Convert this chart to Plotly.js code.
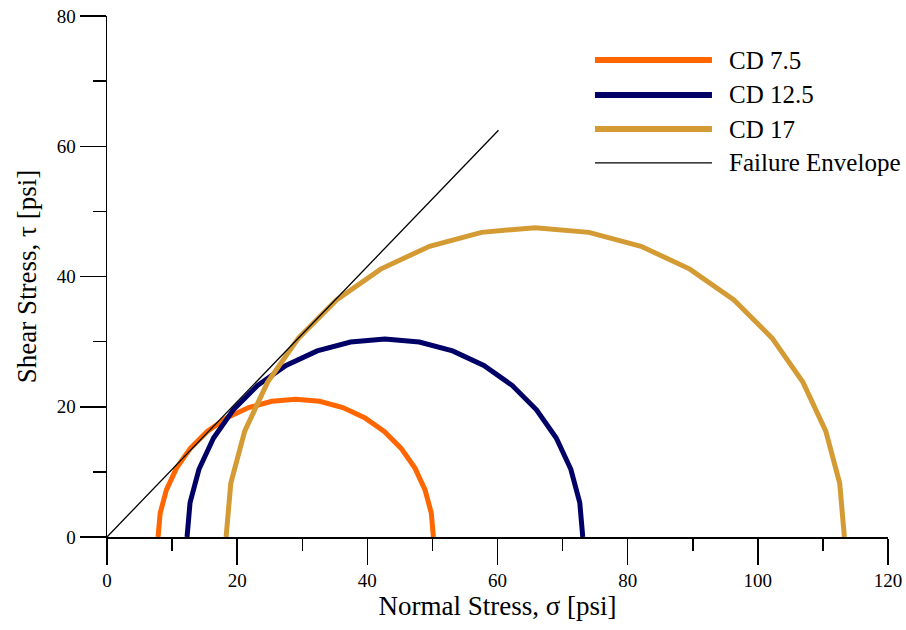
<!DOCTYPE html>
<html>
<head>
<meta charset="utf-8">
<script src="https://cdn.plot.ly/plotly-3.0.1.min.js"></script>
<style>
html,body{margin:0;padding:0;background:#fff;}
#chart{width:906px;height:630px;}
#chart .xtick text, #chart .ytick text { font-family: "Liberation Serif", "Times New Roman", serif !important; }
</style>
</head>
<body>
<div id="chart"></div>
<script>
// Mohr circle CD 7.5
const cd75_sigma = [7.85, 8.17, 9.13, 10.68, 12.80, 15.40, 18.43, 21.77, 25.33, 29.00, 32.67, 36.23, 39.58, 42.60, 45.20, 47.32, 48.87, 49.83, 50.15];
const cd75_tau   = [0, 3.67, 7.23, 10.58, 13.60, 16.20, 18.32, 19.87, 20.83, 21.15, 20.83, 19.87, 18.32, 16.20, 13.60, 10.58, 7.23, 3.67, 0];
// Mohr circle CD 12.5
const cd125_sigma = [12.3, 12.76, 14.13, 16.37, 19.41, 23.16, 27.5, 32.30, 37.42, 42.7, 47.98, 53.10, 57.9, 62.24, 65.99, 69.03, 71.27, 72.64, 73.1];
const cd125_tau   = [0, 5.28, 10.40, 15.2, 19.54, 23.29, 26.33, 28.57, 29.94, 30.4, 29.94, 28.57, 26.33, 23.29, 19.54, 15.2, 10.40, 5.28, 0];
// Mohr circle CD 17
const cd17_sigma = [18.3, 19.02, 21.16, 24.66, 29.41, 35.27, 42.05, 49.55, 57.55, 65.8, 74.05, 82.05, 89.55, 96.33, 102.19, 106.94, 110.44, 112.58, 113.3];
const cd17_tau   = [0, 8.25, 16.25, 23.75, 30.53, 36.39, 41.14, 44.64, 46.78, 47.5, 46.78, 44.64, 41.14, 36.39, 30.53, 23.75, 16.25, 8.25, 0];
// Failure envelope
const env_sigma = [0, 60.15];
const env_tau   = [0, 62.46];

const seriesNames = ["CD 7.5", "CD 12.5", "CD 17", "Failure Envelope"];
const seriesColors = ["#FF6600", "#000066", "#D49B35", "#000000"];
const seriesWidths = [5, 5, 5, 1.3];
const xTicks = [0, 20, 40, 60, 80, 100, 120];
const yTicks = [0, 20, 40, 60, 80];
const xMinorTicks = [10, 30, 50, 70, 90, 110];
const yMinorTicks = [10, 30, 50, 70];

const FONT = 'Liberation Serif';

const data = [
  {x: cd75_sigma, y: cd75_tau},
  {x: cd125_sigma, y: cd125_tau},
  {x: cd17_sigma, y: cd17_tau},
  {x: env_sigma, y: env_tau}
].map((d, i) => ({
  x: d.x, y: d.y, type: 'scatter', mode: 'lines', name: seriesNames[i],
  line: {color: seriesColors[i], width: seriesWidths[i]}, showlegend: false, hoverinfo: 'skip'
}));

// manual legend (paper coords)
const legRowsY = [0.9155, 0.8484, 0.7831, 0.7179];
const shapes = [];
const annotations = [];
seriesNames.forEach((n, i) => {
  shapes.push({type: 'line', xref: 'paper', yref: 'paper', x0: 0.6248, x1: 0.7746,
    y0: legRowsY[i], y1: legRowsY[i], line: {color: seriesColors[i], width: seriesWidths[i] + (i < 3 ? 1 : 0)}});
  annotations.push({xref: 'paper', yref: 'paper', x: 0.7939, y: legRowsY[i], xanchor: 'left', yanchor: 'middle',
    text: n, showarrow: false, font: {family: FONT, size: 25, color: '#000'}});
});

function minorAxis(range, vals, over) {
  return {
    overlaying: over, range: range, tickmode: 'array', tickvals: vals, showticklabels: false,
    ticks: 'outside', ticklen: 13, tickwidth: 1.5, tickcolor: '#000',
    showgrid: false, zeroline: false, showline: false, automargin: false
  };
}
function majorAxis(range, vals) {
  return {
    range: range, tickmode: 'array', tickvals: vals,
    showgrid: false, zeroline: false, showline: true, linecolor: '#000', linewidth: 1.5,
    ticks: 'outside', ticklen: 26, tickwidth: 1.5, tickcolor: '#000', automargin: false,
    tickfont: {family: FONT, size: 19, color: '#000'}
  };
}

const layout = {
  width: 906, height: 630,
  font: {family: FONT, size: 18, color: '#000'},
  margin: {l: 107, r: 18, t: 16, b: 93},
  paper_bgcolor: '#fff', plot_bgcolor: '#fff',
  showlegend: false,
  xaxis: Object.assign(majorAxis([0, 120], xTicks), {
    title: {text: 'Normal Stress, σ [psi]', font: {family: FONT, size: 27, color: '#000'}, standoff: 0}
  }),
  yaxis: Object.assign(majorAxis([0, 80], yTicks), {
    title: {text: 'Shear Stress, τ [psi]', font: {family: FONT, size: 27, color: '#000'}, standoff: 12}
  }),
  xaxis2: Object.assign(minorAxis([0, 120], xMinorTicks, 'x'), {anchor: 'y'}),
  yaxis2: Object.assign(minorAxis([0, 80], yMinorTicks, 'y'), {anchor: 'x'}),
  shapes: shapes,
  annotations: annotations
};

data.push({x: [null], y: [null], xaxis: 'x2', yaxis: 'y2', type: 'scatter', mode: 'lines', showlegend: false, hoverinfo: 'skip'});

Plotly.newPlot('chart', data, layout, {staticPlot: true, displayModeBar: false}).then(function () {
  try {
    document.querySelectorAll('#chart .xtick text, #chart .ytick text').forEach(function (t) {
      t.style.setProperty('font-family', '"Liberation Serif", serif', 'important');
    });
  } catch (e) {}
});
</script>
</body>
</html>
